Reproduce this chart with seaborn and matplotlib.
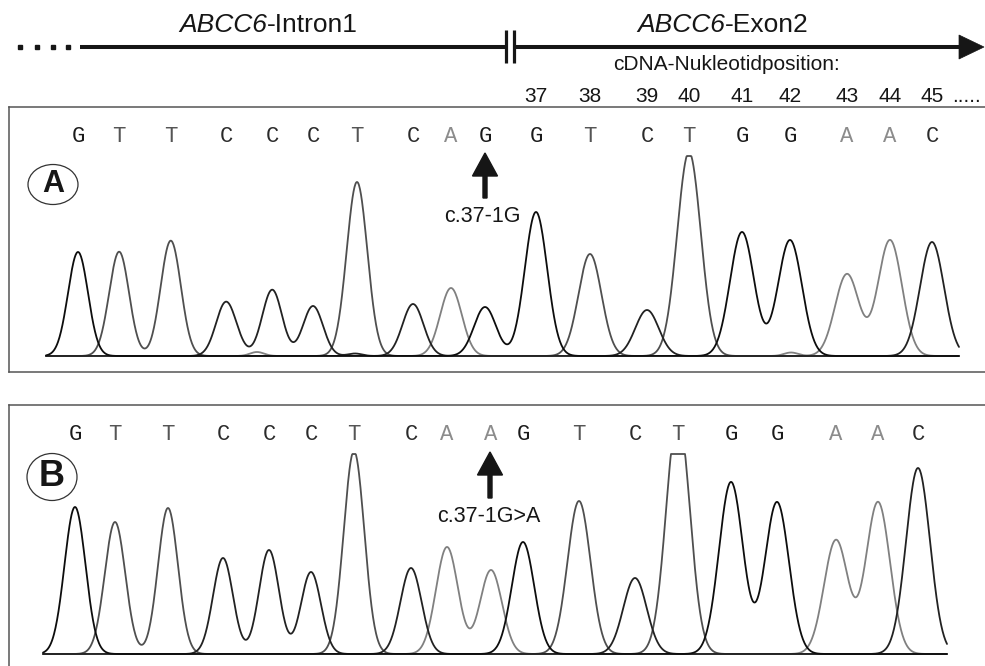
import numpy as np
import pandas as pd
import matplotlib
matplotlib.use("Agg")
import matplotlib.pyplot as plt
import matplotlib.transforms as mtransforms
from matplotlib.patches import Ellipse, FancyArrow, Polygon
import seaborn as sns

sns.set_theme(style="white")
plt.rcParams["font.family"] = ["Liberation Sans", "DejaVu Sans"]

# ---- chromatogram data (scan position, peak height, peak width) ----
# Panel A: reference sequence
a_bases = list("GTTCCCTCAGGTCTGGAAC")
a_pos = [78, 119, 171, 226, 272, 313, 357, 413, 451, 485,
         536, 590, 647, 689, 742, 790, 847, 890, 932]
a_height = [104, 102, 114, 54, 64, 50, 174, 52, 68, 49,
            144, 102, 46, 204, 124, 116, 82, 116, 114]
a_width = [10, 10, 10, 10, 10, 10, 10.3, 10.5, 10.8, 11,
           11.2, 11.5, 11.7, 11.8, 12, 12, 12, 12, 12]
a_minor_bases = ["T", "T", "C", "A", "C", "C", "A"]
a_minor_pos = [122, 162, 240, 257, 275, 355, 791]
a_minor_height = [2.5, 3, 2.5, 4, 2.5, 2.5, 3.5]
a_range = (46, 959)

# Panel B: sample carrying c.37-1G>A
b_bases = list("GTTCCCTCAAGTCTGGAAC")
b_pos = [75, 115, 168, 223, 269, 311, 354, 411, 447, 491,
         523, 579, 635, 678, 731, 777, 836, 878, 918]
b_height = [147, 132, 146, 96, 104, 82, 203, 86, 107, 84,
            112, 153, 76, 240, 172, 152, 114, 152, 186]
b_width = [10.5, 10.3, 10, 10, 10, 10, 10.3, 10.6, 11, 11,
           11.2, 11.5, 11.7, 11.8, 12, 12, 12, 12, 12]
b_minor_bases = []
b_minor_pos = []
b_minor_height = []
b_range = (43, 947)

SATURATION = 200  # detector ceiling

exon_positions = ["37", "38", "39", "40", "41", "42", "43", "44", "45"]

trace_colors = {"A": "#808080", "T": "#4f4f4f", "C": "#222222", "G": "#0d0d0d"}
letter_colors = {"A": "#8c8c8c", "T": "#555555", "C": "#2a2a2a", "G": "#1a1a1a"}
INK = "#161616"


def traces(bases, pos, height, width, mbases, mpos, mheight, xr):
    x = np.arange(xr[0], xr[1] + 0.01, 0.5)
    rows = []
    for ch in ["A", "T", "C", "G"]:
        sig = np.zeros_like(x)
        for b, p, h, w in zip(bases, pos, height, width):
            if b == ch:
                sig += h * np.exp(-0.5 * ((x - p) / w) ** 2)
        for b, p, h in zip(mbases, mpos, mheight):
            if b == ch:
                sig += h * np.exp(-0.5 * ((x - p) / 7.0) ** 2)
        sig = np.minimum(sig, SATURATION)
        rows.append(pd.DataFrame({"scan": x, "signal": sig, "base": ch}))
    return pd.concat(rows, ignore_index=True)


W, H = 985, 666
fig = plt.figure(figsize=(W / 100, H / 100), dpi=100)


def add_panel(top_px, bottom_px, ylo, yhi):
    ax = fig.add_axes([9 / W, 1 - bottom_px / H, (W - 9) / W, (bottom_px - top_px) / H])
    ax.set_xlim(9, W)
    ax.set_ylim(ylo, yhi)
    ax.set_xticks([])
    ax.set_yticks([])
    for s in ax.spines.values():
        s.set_color("#555555")
        s.set_linewidth(1.1)
    ax.spines["right"].set_visible(False)
    return ax


axA = add_panel(107, 372, -16, 249)
axB = add_panel(405, 666, -12, 249)
axB.spines["bottom"].set_visible(False)

for ax, bases, pos, height, width, mb, mp, mh, xr in [
    (axA, a_bases, a_pos, a_height, a_width, a_minor_bases, a_minor_pos, a_minor_height, a_range),
    (axB, b_bases, b_pos, b_height, b_width, b_minor_bases, b_minor_pos, b_minor_height, b_range),
]:
    df = traces(bases, pos, height, width, mb, mp, mh, xr)
    sns.lineplot(data=df, x="scan", y="signal", hue="base",
                 hue_order=["A", "T", "C", "G"], palette=trace_colors,
                 estimator=None, sort=False, linewidth=1.3, legend=False, ax=ax)
    ax.set_xlabel("")
    ax.set_ylabel("")
    for b, p in zip(bases, pos):
        ax.text(p, 219, b, ha="center", va="center", fontsize=16,
                family=["Liberation Mono", "DejaVu Sans Mono"], color=letter_colors[b])

# ---- overlay for the gene diagram and annotations (pixel units) ----
ov = fig.add_axes([0, 0, 1, 1], zorder=5)
ov.set_xlim(0, W)
ov.set_ylim(H, 0)
ov.axis("off")
ov.patch.set_alpha(0)

line_y = 47
ov.plot([20, 37, 53, 68], [line_y] * 4, ls="none", marker="s", ms=2.8, color=INK)
ov.plot([80, 505], [line_y, line_y], color=INK, lw=2.9, solid_capstyle="butt")
ov.plot([513, 962], [line_y, line_y], color=INK, lw=2.9, solid_capstyle="butt")
for bx in (505.5, 513.5):
    ov.plot([bx, bx], [30, 63], color=INK, lw=2.3, solid_capstyle="butt")
ov.add_patch(Polygon([[959, 35], [984, line_y], [959, 59]], closed=True,
                     facecolor=INK, edgecolor=INK, lw=0.5))

# region titles: italic gene symbol followed by upright region name
for split_x, region in [(267, "-Intron1"), (725, "-Exon2")]:
    ov.text(split_x, 32, "ABCC6", ha="right", va="baseline", fontsize=19,
            style="italic", color=INK)
    ov.text(split_x, 32, region, ha="left", va="baseline", fontsize=19, color=INK)

ov.text(727, 64, "cDNA-Nukleotidposition:", ha="center", va="center", fontsize=15, color=INK)

blend = mtransforms.blended_transform_factory(axA.transData, ov.transData)
for lab, p in zip(exon_positions, a_pos[10:]):
    ov.text(p, 96, lab, transform=blend, ha="center", va="center", fontsize=15, color=INK)
ov.text(966, 96, ".....", ha="center", va="center", fontsize=15, color=INK)

# panel tags
ov.add_patch(Ellipse((53, 184.5), 50, 40, facecolor="none", edgecolor="#333333", lw=0.9))
ov.text(53, 184, "A", ha="center", va="center", fontsize=22, fontweight="bold", color=INK)
ov.add_patch(Ellipse((52, 477), 50, 47, facecolor="none", edgecolor="#333333", lw=0.9))
ov.text(52, 477, "B", ha="center", va="center", fontsize=26, fontweight="bold", color=INK)

# mutation arrows
ov.add_patch(FancyArrow(485, 198, 0, -45, width=4, head_width=25, head_length=23,
                        length_includes_head=True, color=INK))
ov.text(482, 217, "c.37-1G", ha="center", va="center", fontsize=15.5, color=INK)
ov.add_patch(FancyArrow(490, 498, 0, -46, width=4, head_width=25, head_length=23,
                        length_includes_head=True, color=INK))
ov.text(489, 517, "c.37-1G>A", ha="center", va="center", fontsize=15.5, color=INK)

fig.savefig("out.png", dpi=100)
